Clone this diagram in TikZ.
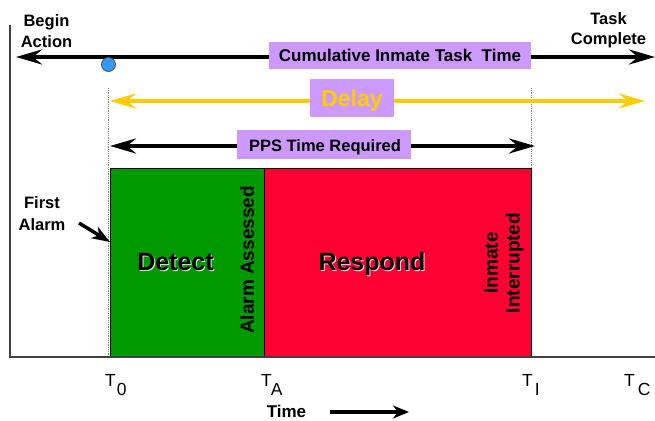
\documentclass[tikz,border=0pt]{standalone}
\usepackage{fontspec}
\setmainfont{Liberation Sans}
\usetikzlibrary{arrows.meta}
\definecolor{lav}{HTML}{CC99FF}
\definecolor{gr}{HTML}{009900}
\definecolor{rd}{HTML}{FF0033}
\definecolor{yl}{HTML}{FFCC00}
\definecolor{bl}{HTML}{3399FF}
\tikzset{
  bigtip/.style={-{Stealth[length=26pt,width=15pt,inset=9pt]}},
  bothtip/.style={{Stealth[length=26pt,width=15pt,inset=9pt]}-{Stealth[length=26pt,width=15pt,inset=9pt]}},
  lbl/.style={font=\fontsize{16.5}{20}\selectfont\bfseries, inner sep=0pt},
  tlbl/.style={font=\fontsize{17.5}{20}\selectfont, inner sep=0pt, anchor=base west},
  purplebox/.style={fill=lav, draw=none, inner sep=0pt},
  dots/.style={draw=gray, densely dotted, line width=0.8pt},
  big/.style={font=\fontsize{25}{28}\selectfont\bfseries, inner sep=0pt, anchor=base},
  vert/.style={font=\fontsize{19}{22}\selectfont\bfseries, inner sep=0pt, rotate=90, align=center}
}
\begin{document}
\begin{tikzpicture}[x=1pt,y=-1pt]
\useasboundingbox (0,0) rectangle (655,420);
% axes
\coordinate (axT) at (10,25);
\coordinate (axO) at (10,357);
\coordinate (axR) at (655,357);
\draw[line width=1.4pt, black!75] (axT) -- (axO) -- (axR);
% dotted guides
\coordinate (d0t) at (108,88);
\coordinate (d0b) at (108,357);
\coordinate (d1t) at (531,88);
\coordinate (d1b) at (531,168);
\draw[dots] (d0t) -- (d0b);
\draw[dots] (d1t) -- (d1b);
% bars
\node[draw=black, line width=1pt, fill=gr, minimum width=154pt, minimum height=189pt, inner sep=0pt, anchor=north west] (detbox) at (110,168) {};
\node[draw=black, line width=1pt, fill=rd, minimum width=267pt, minimum height=189pt, inner sep=0pt, anchor=north west] (resbox) at (264,168) {};
\draw[line width=1.4pt, black!75] (axO) -- (axR);
% cumulative arrow
\coordinate (cumL) at (16,57);
\coordinate (cumR) at (655,57);
\draw[bothtip, line width=4pt] (cumL) -- (cumR);
\node[purplebox, minimum width=262pt, minimum height=27pt] (cum) at (400,55.5) {};
\node[lbl, font=\fontsize{17}{20}\selectfont\bfseries, anchor=base] (cumt) at (400,61) {Cumulative Inmate Task\ \ Time};
% blue dot
\node[circle, fill=bl, draw=black!70, line width=0.8pt, minimum size=14pt, inner sep=0pt] (dot) at (108.5,64.5) {};
% delay arrow
\coordinate (delL) at (110,101);
\coordinate (delR) at (645,101);
\draw[bothtip, line width=4pt, yl] (delL) -- (delR);
\node[purplebox, minimum width=84pt, minimum height=38pt] (del) at (352,98) {};
\node[font=\fontsize{23}{26}\selectfont\bfseries, text=yl, inner sep=0pt, anchor=base] (delt) at (352,106) {Delay};
% PPS arrow
\coordinate (ppsL) at (110,146);
\coordinate (ppsR) at (535,146);
\draw[bothtip, line width=4pt] (ppsL) -- (ppsR);
\node[purplebox, minimum width=174pt, minimum height=29pt] (pps) at (324,144.5) {};
\node[lbl, anchor=base] (ppst) at (325,151) {PPS Time Required};
% end labels
\node[lbl, anchor=base] (beg1) at (46.5,27) {Begin};
\node[lbl, anchor=base] (beg2) at (46.5,48) {Action};
\node[lbl, anchor=base] (tc1) at (608.5,25) {Task};
\node[lbl, anchor=base] (tc2) at (608.5,45) {Complete};
\node[lbl, anchor=base] (fa1) at (42,208) {First};
\node[lbl, anchor=base] (fa2) at (42,230) {Alarm};
\coordinate (faS) at (79,223);
\coordinate (faE) at (110,242);
\draw[-{Stealth[length=18pt,width=13pt,inset=5pt]}, line width=3.5pt] (faS) -- (faE);
% phase labels
\node[big, text=black!10] (dets) at (176.5,271.5) {Detect};
\node[big] (det) at (175.5,270.5) {Detect};
\node[big, text=black!10] (ress) at (373,271.5) {Respond};
\node[big] (res) at (372,270.5) {Respond};
\node[vert] (aa) at (247,260) {Alarm Assessed};
\node[vert] (ii) at (504,263) {Inmate\\Interrupted};
% time labels
\node[tlbl] (t0) at (105,386) {T\hspace{1pt}\raisebox{-9.5pt}{0}};
\node[tlbl] (ta) at (261,386) {T\hspace{-1pt}\raisebox{-9.5pt}{A}};
\node[tlbl] (ti) at (522,386) {T\hspace{2pt}\raisebox{-9.5pt}{I}};
\node[tlbl] (tcc) at (624,386) {T\hspace{3pt}\raisebox{-9.5pt}{C}};
\node[lbl, font=\fontsize{17}{20}\selectfont\bfseries, anchor=base] (time) at (286.5,417) {Time};
\coordinate (tmS) at (330,412);
\coordinate (tmE) at (409,412);
\draw[-{Stealth[length=16pt,width=13pt,inset=5pt]}, line width=4pt] (tmS) -- (tmE);
\end{tikzpicture}
\end{document}
